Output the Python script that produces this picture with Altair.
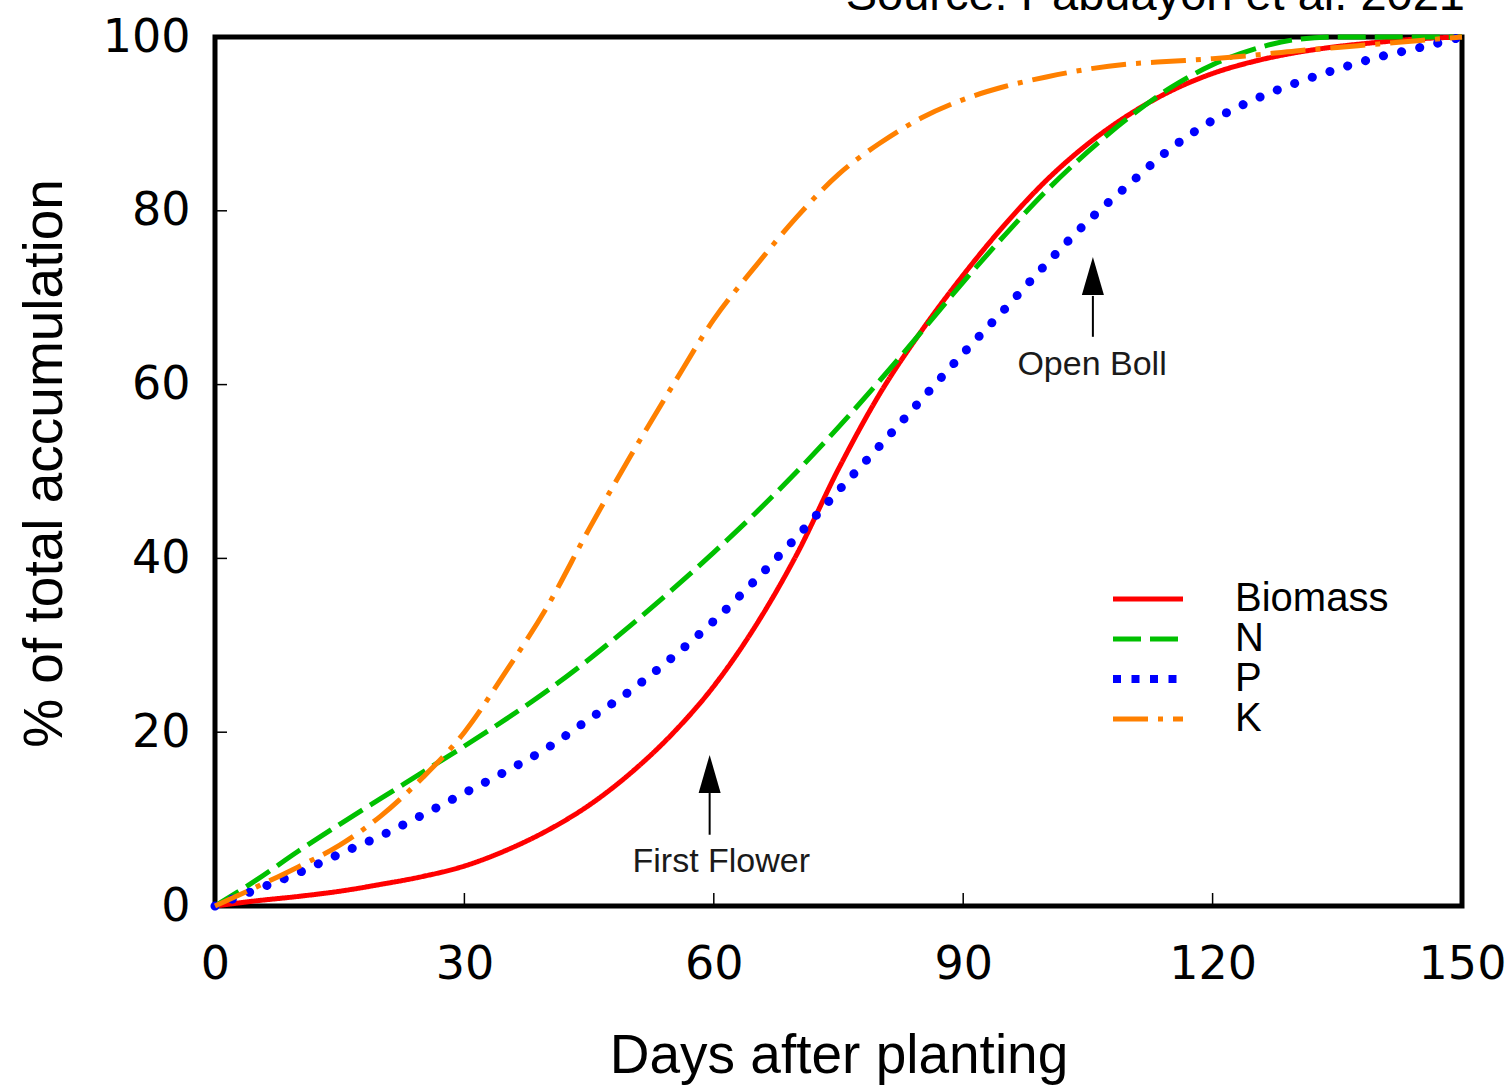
import json
import altair as alt
import pandas as pd

# ---------------- data ----------------
days = [0, 5, 10, 15, 20, 25, 30, 35, 40, 45, 50, 55, 60, 65, 70, 75, 80, 85, 90,
        95, 100, 105, 110, 115, 120, 125, 130, 135, 140, 145, 150]
biomass = [0, 0.6, 1.1, 1.7, 2.5, 3.4, 4.6, 6.4, 8.7, 11.6, 15.3, 19.8, 25.3, 32.2, 40.5,
           50.3, 59, 66.2, 72.6, 78.4, 83.5, 87.7, 91.1, 93.8, 95.8, 97.2, 98.2, 98.9,
           99.4, 99.8, 100]
n_vals = [0, 3, 6.3, 9.4, 12.4, 15.4, 18.4, 21.5, 24.8, 28.4, 32.3, 36.4, 40.7, 45.2,
          50, 55.1, 60.5, 66.1, 71.8, 77.2, 82.3, 86.8, 90.8, 94.2, 96.8, 98.6, 99.7,
          100, 100, 100, 100]
p_vals = [0, 1.9, 3.8, 6, 8.1, 10.5, 13, 15.5, 18.2, 21.5, 24.8, 28.6, 32.8, 37.5,
          42.5, 47.8, 53, 58.3, 63.6, 68.7, 73.9, 78.8, 83.1, 87.2, 90.4, 92.8, 94.7,
          96.3, 97.7, 98.8, 100]
k_vals = [0, 2.2, 4.5, 7, 10.4, 14.8, 20, 27, 34.5, 43.4, 51.8, 59.8, 67.5, 73.6, 79.3,
          84.2, 87.8, 90.7, 92.8, 94.3, 95.4, 96.3, 96.9, 97.2, 97.5, 97.9, 98.4, 98.8,
          99.2, 99.6, 100]

series_names = ["Biomass", "N", "P", "K"]
series_values = [biomass, n_vals, p_vals, k_vals]
series_colors = ["#FF0000", "#00C000", "#0000FF", "#FF8000"]
series_dashes = [[1, 0], [28, 9], [0.1, 18.5], [35, 10, 5, 10]]
series_widths = [5, 5, 9, 5]
legend_dashes = [[1, 0], [28, 9], [8, 10.5], [35, 10, 5, 10]]
legend_widths = [5, 5, 8, 5]

x_ticks = [0, 30, 60, 90, 120, 150]
y_ticks = [0, 20, 40, 60, 80, 100]
inner_x_ticks = [30, 60, 90, 120]
inner_y_ticks = [20, 40, 60, 80]

ann_labels = ["First Flower", "Open Boll"]
ann_text_day = [60.9, 105.5]
ann_text_val = [3.9, 61.1]
ann_arrow_day = [59.5, 105.6]
ann_shaft_low = [8.2, 65.5]
ann_shaft_high = [13.0, 70.2]
ann_head_mid = [15.2, 72.5]

source_text = "Source: Pabuayon et al. 2021"

# ---------------- tables ----------------
rows = []
for name, vals in zip(series_names, series_values):
    for d, v in zip(days, vals):
        rows.append({"day": d, "value": v, "series": name})
df = pd.DataFrame(rows)

W, H = 1247, 869
FONT = "Liberation Sans"


def per_series_expr(values):
    expr = json.dumps(values[0])
    for name, val in zip(series_names[1:], values[1:]):
        expr = f"datum.value === '{name}' ? {json.dumps(val)} : ({expr})"
    return expr


x_axis = alt.Axis(values=x_ticks, format="d", labelFont="DejaVu Sans", labelFontSize=46,
                  labelColor="black", labelPadding=36, labelFlush=False, labelOverlap=False,
                  ticks=False, domain=False, grid=False,
                  title="Days after planting", titleFont=FONT, titleFontSize=55,
                  titleFontWeight="normal", titleColor="black", titleX=W / 2, titleY=166,
                  titleBaseline="alphabetic", titleAlign="center")
y_axis = alt.Axis(values=y_ticks, format="d", labelFont="DejaVu Sans", labelFontSize=46,
                  labelColor="black", labelPadding=25, labelFlush=False, labelOverlap=False,
                  ticks=False, domain=False, grid=False,
                  title="% of total accumulation", titleFont=FONT, titleFontSize=55,
                  titleFontWeight="normal", titleColor="black", titleX=-154, titleY=426,
                  titleAngle=270, titleBaseline="alphabetic", titleAlign="center")

X = alt.X("day:Q", scale=alt.Scale(domain=[0, 150], nice=False, zero=False), axis=x_axis,
          title="Days after planting")
Y = alt.Y("value:Q", scale=alt.Scale(domain=[0, 100], nice=False), axis=y_axis,
          title="% of total accumulation")

legend = alt.Legend(
    title=None, orient="none", legendX=913, legendY=542, direction="vertical",
    symbolType="stroke", symbolSize=4900,
    symbolStrokeWidth=alt.ExprRef(per_series_expr(legend_widths)),
    symbolDash=alt.ExprRef(per_series_expr(legend_dashes)),
    labelFont=FONT, labelFontSize=40, labelColor="black", labelOffset=67,
    rowPadding=-39.6, padding=0,
)

color = alt.Color("series:N", scale=alt.Scale(domain=series_names, range=series_colors),
                  legend=legend)

layers = []
for name, dsh, wd in zip(series_names, series_dashes, series_widths):
    is_p = name == "P"
    layers.append(
        alt.Chart(df).transform_filter(alt.datum.series == name).mark_line(
            interpolate="monotone", strokeWidth=wd, strokeDash=dsh,
            strokeCap="round" if is_p else "butt"
        ).encode(x=X, y=Y, color=color, order="day:Q")
    )

# inward tick marks
xt = alt.Chart(pd.DataFrame({"day": inner_x_ticks})).mark_rule(color="black", strokeWidth=1.5).encode(
    x=X, y=alt.value(H), y2=alt.value(H - 13))
yt = alt.Chart(pd.DataFrame({"value": inner_y_ticks})).mark_rule(color="black", strokeWidth=1.5).encode(
    y=Y, x=alt.value(0), x2=alt.value(12))

# annotations
ann_df = pd.DataFrame({"day": ann_text_day, "value": ann_text_val, "label": ann_labels})
ann_text = alt.Chart(ann_df).mark_text(font=FONT, fontSize=34, color="#1a1a1a",
                                       align="center", baseline="alphabetic").encode(
    x=X, y=Y, text="label:N")
shaft_df = pd.DataFrame({"day": ann_arrow_day, "value": ann_shaft_low, "value2": ann_shaft_high})
shafts = alt.Chart(shaft_df).mark_rule(color="black", strokeWidth=2).encode(
    x=X, y=Y, y2="value2:Q")
head_df = pd.DataFrame({"day": ann_arrow_day, "value": ann_head_mid})
heads = alt.Chart(head_df).mark_point(shape="M0,-1L0.58,1L-0.58,1Z", filled=True, size=1444,
                                      color="black", opacity=1).encode(x=X, y=Y)

src = alt.Chart(pd.DataFrame({"t": [source_text]})).mark_text(
    font=FONT, fontSize=47, color="black", align="right", baseline="alphabetic").encode(
    text="t:N", x=alt.value(W + 3), y=alt.value(-27))

chart = alt.layer(xt, yt, *layers, shafts, heads, ann_text, src).properties(
    width=W, height=H,
    autosize=alt.AutoSizeParams(type="none"),
    padding={"left": 215, "top": 37, "right": 47, "bottom": 180},
).configure(background="white", view=alt.ViewConfig(stroke="black", strokeWidth=5))

chart.save("out.html", embed_options={"renderer": "svg", "actions": False})
